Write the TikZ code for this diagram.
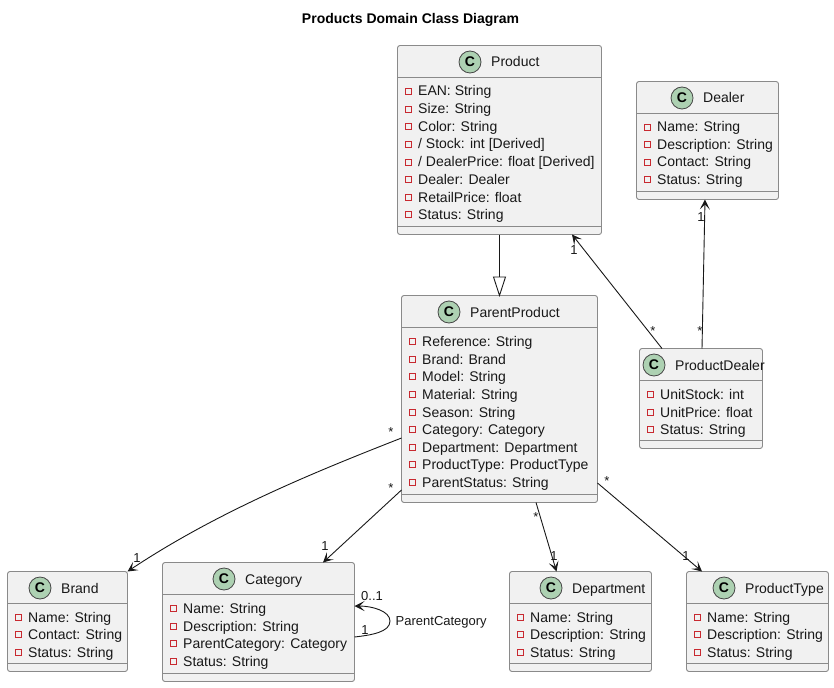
\documentclass[tikz,border=0pt]{standalone}
\usepackage{fontspec}
\setmainfont{Liberation Sans}
\usetikzlibrary{arrows.meta,calc}
\definecolor{boxfill}{HTML}{F1F1F1}
\definecolor{boxline}{HTML}{8A8A8A}
\definecolor{inkc}{HTML}{181818}
\definecolor{spot}{HTML}{ADD1B2}
\definecolor{priv}{HTML}{C82930}
\tikzset{
  x=1pt,y=-1pt,
  classbox/.style={draw=boxline,fill=boxfill,line width=0.9pt,rounded corners=2.5pt,inner sep=0pt,outer sep=0pt,anchor=north west},
  sepline/.style={draw=boxline,line width=0.9pt},
  spotc/.style={circle,draw=inkc!80,fill=spot,line width=0.8pt,minimum size=22pt,inner sep=0pt,font=\fontsize{14}{14}\selectfont\bfseries},
  titletext/.style={anchor=base west,inner sep=0pt,text=inkc,font=\fontsize{14}{14}\selectfont},
  attrtext/.style={anchor=base west,inner sep=0pt,text=inkc,font=\fontsize{14}{14}\selectfont},
  privmark/.style={draw=priv,line width=0.8pt,minimum size=6pt,inner sep=0pt},
  edgelabel/.style={inner sep=0pt,text=inkc,font=\fontsize{13}{13}\selectfont},
  assoc/.style={draw=inkc,line width=0.9pt,-{Stealth[length=10pt,width=10pt,inset=5pt]}},
  plainedge/.style={draw=inkc,line width=0.9pt},
  genhead/.style={draw=inkc,fill=white,line width=0.9pt},
}
% #1 name, #2 x, #3 y, #4 w, #5 h, #6 sep1 offset from top, #7 sep2 offset from top, #8 circle x, #9 title
\newcommand{\umlbox}[9]{%
  \node[classbox,minimum width=#4pt,minimum height=#5pt] (#1) at (#2,#3) {};
  \draw[sepline] (#2,#3+#6) -- (#2+#4,#3+#6);
  \draw[sepline] (#2,#3+#7) -- (#2+#4,#3+#7);
  \node[spotc] (#1c) at (#8,#3+16.5) {C};
  \node[titletext] (#1t) at (#8+21,#3+21.5) {#9};
}
% #1 name, #2 box name left x, #3 y, #4 text
\newcommand{\umlattr}[4]{%
  \node[privmark] (#1m) at (#2+11,#3) {};
  \node[attrtext] (#1a) at (#2+20.5,#3+5) {#4};
}
\begin{document}
\begin{tikzpicture}
\useasboundingbox (0,0) rectangle (834,687);
\node[inner sep=0pt,text=black,font=\fontsize{14}{14}\selectfont\bfseries] (title) at (410.5,20) {Products Domain Class Diagram};

\umlbox{prod}{397.5}{45.5}{204}{189}{32}{181}{470}{Product}
\umlattr{p1}{397.5}{91}{EAN: String}
\umlattr{p2}{397.5}{109}{Size: String}
\umlattr{p3}{397.5}{126.5}{Color: String}
\umlattr{p4}{397.5}{144}{/ Stock: int [Derived]}
\umlattr{p5}{397.5}{162}{/ DealerPrice: float [Derived]}
\umlattr{p6}{397.5}{179.5}{Dealer: Dealer}
\umlattr{p7}{397.5}{197}{RetailPrice: float}
\umlattr{p8}{397.5}{214.5}{Status: String}

\umlbox{deal}{636.5}{81.5}{142}{118}{32}{110}{682}{Dealer}
\umlattr{d1}{636.5}{127}{Name: String}
\umlattr{d2}{636.5}{144.5}{Description: String}
\umlattr{d3}{636.5}{162}{Contact: String}
\umlattr{d4}{636.5}{179.5}{Status: String}

\umlbox{par}{401.5}{295.5}{196}{207}{32}{199}{449}{ParentProduct}
\umlattr{a1}{401.5}{341}{Reference: String}
\umlattr{a2}{401.5}{359}{Brand: Brand}
\umlattr{a3}{401.5}{376.5}{Model: String}
\umlattr{a4}{401.5}{394}{Material: String}
\umlattr{a5}{401.5}{412}{Season: String}
\umlattr{a6}{401.5}{429.5}{Category: Category}
\umlattr{a7}{401.5}{447}{Department: Department}
\umlattr{a8}{401.5}{464.5}{ProductType: ProductType}
\umlattr{a9}{401.5}{482}{ParentStatus: String}

\umlbox{pd}{639.5}{348.5}{123}{100}{32}{92}{654}{ProductDealer}
\umlattr{e1}{639.5}{394}{UnitStock: int}
\umlattr{e2}{639.5}{412}{UnitPrice: float}
\umlattr{e3}{639.5}{429.5}{Status: String}

\umlbox{brand}{7.5}{571.5}{120}{100}{32}{92}{40}{Brand}
\umlattr{b1}{7.5}{617}{Name: String}
\umlattr{b2}{7.5}{634.5}{Contact: String}
\umlattr{b3}{7.5}{652}{Status: String}

\umlbox{cat}{162.5}{562.5}{192}{119}{32}{111}{224}{Category}
\umlattr{c1}{162.5}{608}{Name: String}
\umlattr{c2}{162.5}{626}{Description: String}
\umlattr{c3}{162.5}{643}{ParentCategory: Category}
\umlattr{c4}{162.5}{661}{Status: String}

\umlbox{dep}{509.5}{571.5}{142}{100}{32}{92}{551}{Department}
\umlattr{f1}{509.5}{617}{Name: String}
\umlattr{f2}{509.5}{634.5}{Description: String}
\umlattr{f3}{509.5}{652}{Status: String}

\umlbox{ptype}{686.5}{571.5}{142}{100}{32}{92}{724}{ProductType}
\umlattr{g1}{686.5}{617}{Name: String}
\umlattr{g2}{686.5}{634.5}{Description: String}
\umlattr{g3}{686.5}{652}{Status: String}

% inheritance
\coordinate (hb) at ($(prod.south west)+(102,42.5)$);
\draw[plainedge] ([xshift=102pt]prod.south west) -- (hb);
\draw[genhead] ($(hb)+(-6,0)$) -- ($(hb)+(6,0)$) -- ([xshift=98pt]par.north west) -- cycle;

% associations
\draw[assoc] ([xshift=22.5pt]pd.north west) -- ([xshift=174.5pt]prod.south west);
\draw[assoc] ([xshift=62.5pt]pd.north west) -- ([xshift=68.5pt]deal.south west);
\draw[assoc] ([yshift=64.5pt]par.south west) .. controls (320,470) and (220,510) .. (brand.north east);
\draw[assoc] ([yshift=12.5pt]par.south west) -- ([xshift=160.5pt]cat.north west);
\draw[assoc] ([xshift=134.5pt]par.south west) -- ([xshift=47pt]dep.north west);
\draw[assoc] ([yshift=19.5pt]par.south east) -- ([xshift=15.5pt]ptype.north west);
\draw[assoc] ([yshift=-74.5pt]cat.north east) .. controls (372,635) and (390,632) .. (390,621) .. controls (390,611) and (372,606) .. ([yshift=-43.5pt]cat.north east);

\node[edgelabel] (l1) at (574,250) {1};
\node[edgelabel] (l2) at (653,331) {*};
\node[edgelabel] (l3) at (701,217) {1};
\node[edgelabel] (l4) at (700,331) {*};
\node[edgelabel] (l5) at (391,432) {*};
\node[edgelabel] (l6) at (137,558) {1};
\node[edgelabel] (l7) at (391,488) {*};
\node[edgelabel] (l8) at (325,546) {1};
\node[edgelabel] (l9) at (536,517) {*};
\node[edgelabel] (l10) at (554,556) {1};
\node[edgelabel] (l11) at (607,481) {*};
\node[edgelabel] (l12) at (686,556) {1};
\node[edgelabel] (l13) at (372,596) {0..1};
\node[edgelabel] (l14) at (365,630) {1};
\node[edgelabel,anchor=west] (l15) at (395.5,622) {ParentCategory};
\end{tikzpicture}
\end{document}
